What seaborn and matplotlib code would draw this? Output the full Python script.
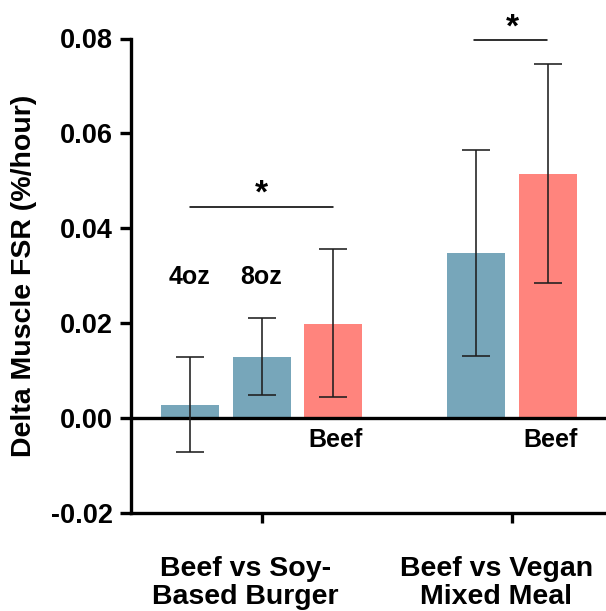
import matplotlib
matplotlib.use("Agg")
import matplotlib.pyplot as plt
from matplotlib.transforms import ScaledTranslation
import numpy as np
import pandas as pd
import seaborn as sns

# Bar slots along the x axis (group 1: three bars, gap, group 2: two bars)
positions = [0, 1, 2, 4, 5]
proteins = ["Soy 4oz", "Soy 8oz", "Beef", "Vegan", "Beef"]
mean_fsr = [0.0028, 0.0129, 0.0199, 0.0347, 0.0515]
ci_low = [-0.0072, 0.0048, 0.0044, 0.0130, 0.0284]
ci_high = [0.0129, 0.0211, 0.0357, 0.0565, 0.0747]

group_labels = ["Beef vs Soy-\nBased Burger", "Beef vs Vegan\nMixed Meal"]
group_ticks = [1, 4.5]
y_ticks = [-0.02, 0.00, 0.02, 0.04, 0.06, 0.08]

palette = {"Soy 4oz": "#77A6BA", "Soy 8oz": "#77A6BA", "Vegan": "#77A6BA", "Beef": "#FF847D"}

sns.set_style("ticks")
plt.rcParams["font.family"] = ["Liberation Sans", "DejaVu Sans"]
plt.rcParams["font.weight"] = "bold"
for key in ["text.color", "axes.labelcolor", "xtick.color", "ytick.color",
            "xtick.labelcolor", "ytick.labelcolor"]:
    plt.rcParams[key] = "black"

df = pd.DataFrame({"pos": positions, "fsr": mean_fsr, "protein": proteins})

fig = plt.figure(figsize=(6.06, 6.11), dpi=100)
ax = fig.add_axes([131 / 606, 98 / 611, 475 / 606, 474.5 / 611])

sns.barplot(data=df, x="pos", y="fsr", hue="protein", palette=palette,
            native_scale=True, dodge=False, width=0.81, errorbar=None,
            legend=False, ax=ax, saturation=1, linewidth=0)

means = np.array(mean_fsr)
yerr = [means - np.array(ci_low), np.array(ci_high) - means]
ax.errorbar(positions, mean_fsr, yerr=yerr, fmt="none", ecolor="#1e1e1e",
            elinewidth=1.15, capsize=10, capthick=1.15, zorder=5)

ax.axhline(0, color="black", lw=2.4, zorder=4)

ax.set_xlim(-0.824, 5.81)
ax.set_ylim(-0.02, 0.08)
ax.set_yticks(y_ticks)
ax.set_yticklabels([f"{v:.2f}" for v in y_ticks])
ax.set_xticks(group_ticks)
ax.set_xticklabels(group_labels, linespacing=1.1)
ax.set_xlabel("")
ax.set_ylabel("Delta Muscle FSR (%/hour)", fontsize=20.5, fontweight="bold", color="black")
ax.yaxis.set_label_coords(-0.198, 0.5)

ax.tick_params(axis="y", length=8, width=2.4, labelsize=19.5, pad=5,
               color="black", labelcolor="black")
ax.tick_params(axis="x", length=7, width=2.4, labelsize=20.5, pad=24,
               color="black", labelcolor="black")
for lab in ax.get_xticklabels() + ax.get_yticklabels():
    lab.set_fontweight("bold")
offset = ScaledTranslation(-0.16, 0, fig.dpi_scale_trans)
for lab in ax.get_xticklabels():
    lab.set_transform(lab.get_transform() + offset)

for side in ["top", "right"]:
    ax.spines[side].set_visible(False)
for side in ["left", "bottom"]:
    ax.spines[side].set_linewidth(2.4)
    ax.spines[side].set_color("black")

# Bar annotations
ann = dict(ha="center", va="baseline", fontsize=18, fontweight="bold", color="black")
ax.text(0, 0.0283, "4oz", **ann)
ax.text(1, 0.0283, "8oz", **ann)
ax.text(2.03, -0.006, "Beef", **ann)
ax.text(5.03, -0.006, "Beef", **ann)

# Significance brackets
ax.plot([0, 2], [0.0445, 0.0445], color="black", lw=1.15, clip_on=False)
ax.text(1, 0.0440, "*", ha="center", va="bottom", fontsize=24, fontweight="bold")
ax.plot([3.97, 4.99], [0.0797, 0.0797], color="black", lw=1.15, clip_on=False)
ax.text(4.5, 0.0790, "*", ha="center", va="bottom", fontsize=24, fontweight="bold", clip_on=False)

fig.savefig("out.png", dpi=100)
